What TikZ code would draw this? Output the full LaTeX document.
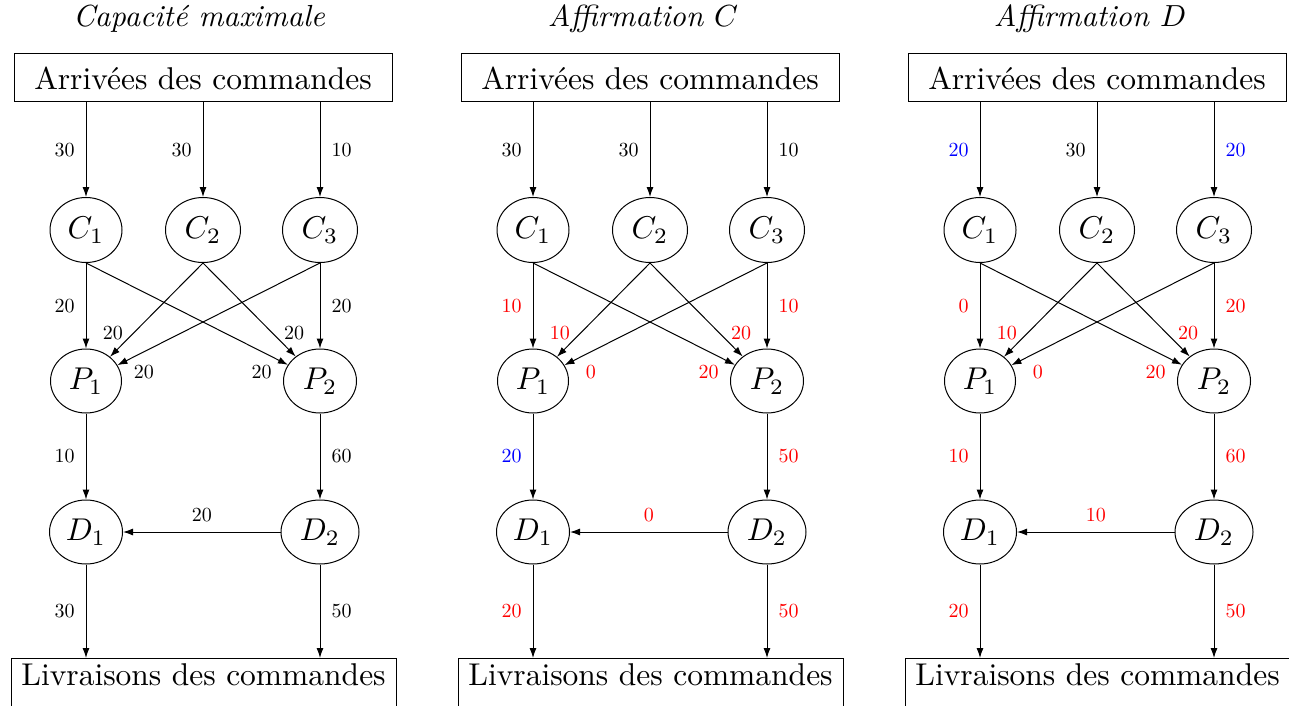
\RequirePackage{fix-cm}
\documentclass[tikz,border=0pt]{standalone}
\usetikzlibrary{shapes.geometric,arrows.meta}
\newcommand\bigtxt[1]{\scalebox{3.15}{#1}}
\newcommand\ttltxt[1]{\scalebox{3.05}{\itshape #1}}
\newcommand\lb[1]{\scalebox{2}{#1}}
\begin{document}
\begin{tikzpicture}[x=1pt,y=-1pt,
  arr/.style={line width=1pt,-{Latex[length=10pt,width=7pt]}},
  ttl/.style={anchor=base,inner sep=0pt},
  topbox/.style={draw,line width=1pt,minimum width=378pt,minimum height=48pt,inner sep=0pt},
  botbox/.style={draw,line width=1pt,minimum width=385pt,anchor=north,inner xsep=0pt,inner ysep=5pt,text height=22pt,text depth=20pt},
  ell/.style={draw,ellipse,line width=1pt,inner sep=0pt,minimum height=65pt},
  lab/.style={inner sep=0pt},
  rl/.style={text=red}, bl/.style={text=blue}
]
\path[use as bounding box, fill=white] (0,0) rectangle (1289,706);

% ---------- Panel 1 ----------
\begin{scope}
\node[ttl] (aT) at (199,27) {\ttltxt{Capacité maximale}};
\node[topbox] (aA) at (203,78) {\bigtxt{Arrivées des commandes}};
\node[ell,minimum width=72pt] (aC1) at (86,230) {\bigtxt{$C_1$}};
\node[ell,minimum width=75pt] (aC2) at (203,230) {\bigtxt{$C_2$}};
\node[ell,minimum width=75pt] (aC3) at (320,230) {\bigtxt{$C_3$}};
\node[ell,minimum width=71pt,minimum height=64pt] (aP1) at (86,381) {\bigtxt{$P_1$}};
\node[ell,minimum width=73pt,minimum height=64pt] (aP2) at (320,381) {\bigtxt{$P_2$}};
\node[ell,minimum width=73pt,minimum height=64pt] (aD1) at (86,532) {\bigtxt{$D_1$}};
\node[ell,minimum width=78pt,minimum height=64pt] (aD2) at (320,532) {\bigtxt{$D_2$}};
\node[botbox] (aL) at (203.5,658) {\bigtxt{Livraisons des commandes}};
\draw[arr] (aA.south -| aC1) -- node[lab,left=11pt]{\lb{30}} (aC1);
\draw[arr] (aA.south -| aC2) -- node[lab,left=11pt]{\lb{30}} (aC2);
\draw[arr] (aA.south -| aC3) -- node[lab,right=11pt]{\lb{10}} (aC3);
\draw[arr] (aC1) -- node[lab,left=11pt]{\lb{20}} (aP1);
\draw[arr] (aC3) -- node[lab,right=11pt]{\lb{20}} (aP2);
\draw[arr] (aC1.south) -- node[lab,pos=0.87,below=13pt]{\lb{20}} (aP2);
\draw[arr] (aC2.south) -- node[lab,pos=0.75,left=10pt]{\lb{20}} (aP1);
\draw[arr] (aC2.south) -- node[lab,pos=0.75,right=11pt]{\lb{20}} (aP2);
\draw[arr] (aC3.south) -- node[lab,pos=0.87,below=13pt]{\lb{20}} (aP1);
\draw[arr] (aP1) -- node[lab,left=11pt]{\lb{10}} (aD1);
\draw[arr] (aP2) -- node[lab,right=11pt]{\lb{60}} (aD2);
\draw[arr] (aD2) -- node[lab,above=10pt]{\lb{20}} (aD1);
\draw[arr] (aD1) -- node[lab,left=11pt]{\lb{30}} (aD1 |- aL.north);
\draw[arr] (aD2) -- node[lab,right=11pt]{\lb{50}} (aD2 |- aL.north);
\end{scope}

% ---------- Panel 2 ----------
\begin{scope}[xshift=447pt]
\node[ttl] (bT) at (196,27) {\ttltxt{Affirmation $C$}};
\node[topbox] (bA) at (203,78) {\bigtxt{Arrivées des commandes}};
\node[ell,minimum width=72pt] (bC1) at (86,230) {\bigtxt{$C_1$}};
\node[ell,minimum width=75pt] (bC2) at (203,230) {\bigtxt{$C_2$}};
\node[ell,minimum width=75pt] (bC3) at (320,230) {\bigtxt{$C_3$}};
\node[ell,minimum width=71pt,minimum height=64pt] (bP1) at (86,381) {\bigtxt{$P_1$}};
\node[ell,minimum width=73pt,minimum height=64pt] (bP2) at (320,381) {\bigtxt{$P_2$}};
\node[ell,minimum width=73pt,minimum height=64pt] (bD1) at (86,532) {\bigtxt{$D_1$}};
\node[ell,minimum width=78pt,minimum height=64pt] (bD2) at (320,532) {\bigtxt{$D_2$}};
\node[botbox] (bL) at (203.5,658) {\bigtxt{Livraisons des commandes}};
\draw[arr] (bA.south -| bC1) -- node[lab,left=11pt]{\lb{30}} (bC1);
\draw[arr] (bA.south -| bC2) -- node[lab,left=11pt]{\lb{30}} (bC2);
\draw[arr] (bA.south -| bC3) -- node[lab,right=11pt]{\lb{10}} (bC3);
\draw[arr] (bC1) -- node[lab,rl,left=11pt]{\lb{10}} (bP1);
\draw[arr] (bC3) -- node[lab,rl,right=11pt]{\lb{10}} (bP2);
\draw[arr] (bC1.south) -- node[lab,rl,pos=0.87,below=13pt]{\lb{20}} (bP2);
\draw[arr] (bC2.south) -- node[lab,rl,pos=0.75,left=10pt]{\lb{10}} (bP1);
\draw[arr] (bC2.south) -- node[lab,rl,pos=0.75,right=11pt]{\lb{20}} (bP2);
\draw[arr] (bC3.south) -- node[lab,rl,pos=0.87,below=13pt]{\lb{0}} (bP1);
\draw[arr] (bP1) -- node[lab,bl,left=11pt]{\lb{20}} (bD1);
\draw[arr] (bP2) -- node[lab,rl,right=11pt]{\lb{50}} (bD2);
\draw[arr] (bD2) -- node[lab,rl,above=10pt]{\lb{0}} (bD1);
\draw[arr] (bD1) -- node[lab,rl,left=11pt]{\lb{20}} (bD1 |- bL.north);
\draw[arr] (bD2) -- node[lab,rl,right=11pt]{\lb{50}} (bD2 |- bL.north);
\end{scope}

% ---------- Panel 3 ----------
\begin{scope}[xshift=894pt]
\node[ttl] (cT) at (196,27) {\ttltxt{Affirmation $D$}};
\node[topbox] (cA) at (203,78) {\bigtxt{Arrivées des commandes}};
\node[ell,minimum width=72pt] (cC1) at (86,230) {\bigtxt{$C_1$}};
\node[ell,minimum width=75pt] (cC2) at (203,230) {\bigtxt{$C_2$}};
\node[ell,minimum width=75pt] (cC3) at (320,230) {\bigtxt{$C_3$}};
\node[ell,minimum width=71pt,minimum height=64pt] (cP1) at (86,381) {\bigtxt{$P_1$}};
\node[ell,minimum width=73pt,minimum height=64pt] (cP2) at (320,381) {\bigtxt{$P_2$}};
\node[ell,minimum width=73pt,minimum height=64pt] (cD1) at (86,532) {\bigtxt{$D_1$}};
\node[ell,minimum width=78pt,minimum height=64pt] (cD2) at (320,532) {\bigtxt{$D_2$}};
\node[botbox] (cL) at (203.5,658) {\bigtxt{Livraisons des commandes}};
\draw[arr] (cA.south -| cC1) -- node[lab,bl,left=11pt]{\lb{20}} (cC1);
\draw[arr] (cA.south -| cC2) -- node[lab,left=11pt]{\lb{30}} (cC2);
\draw[arr] (cA.south -| cC3) -- node[lab,bl,right=11pt]{\lb{20}} (cC3);
\draw[arr] (cC1) -- node[lab,rl,left=11pt]{\lb{0}} (cP1);
\draw[arr] (cC3) -- node[lab,rl,right=11pt]{\lb{20}} (cP2);
\draw[arr] (cC1.south) -- node[lab,rl,pos=0.87,below=13pt]{\lb{20}} (cP2);
\draw[arr] (cC2.south) -- node[lab,rl,pos=0.75,left=10pt]{\lb{10}} (cP1);
\draw[arr] (cC2.south) -- node[lab,rl,pos=0.75,right=11pt]{\lb{20}} (cP2);
\draw[arr] (cC3.south) -- node[lab,rl,pos=0.87,below=13pt]{\lb{0}} (cP1);
\draw[arr] (cP1) -- node[lab,rl,left=11pt]{\lb{10}} (cD1);
\draw[arr] (cP2) -- node[lab,rl,right=11pt]{\lb{60}} (cD2);
\draw[arr] (cD2) -- node[lab,rl,above=10pt]{\lb{10}} (cD1);
\draw[arr] (cD1) -- node[lab,rl,left=11pt]{\lb{20}} (cD1 |- cL.north);
\draw[arr] (cD2) -- node[lab,rl,right=11pt]{\lb{50}} (cD2 |- cL.north);
\end{scope}
\end{tikzpicture}
\end{document}
